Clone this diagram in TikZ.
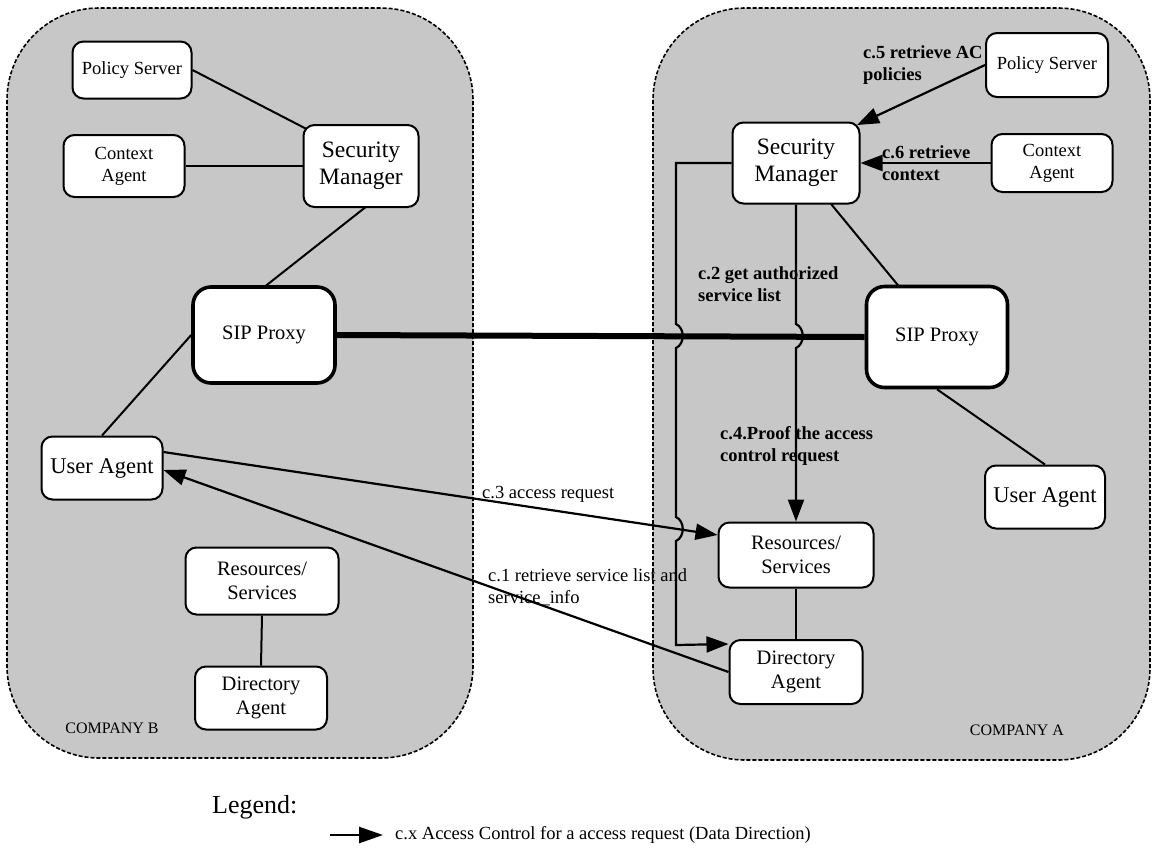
\documentclass[tikz,border=0pt]{standalone}
\usepackage{fontspec}
\setmainfont{Liberation Serif}
\usetikzlibrary{arrows.meta,calc}
\pgfdeclarelayer{regions}
\pgfdeclarelayer{links}
\pgfsetlayers{regions,links,main}
\begin{document}
\begin{tikzpicture}[x=1pt,y=-1pt,
  region/.style={draw=black, line width=1.6pt, dash pattern=on 4pt off 2pt,
    fill=black!22, rounded corners=92pt},
  box/.style={draw=black, line width=2pt, fill=white, rounded corners=11pt,
    align=center, inner sep=0pt, font=\fontsize{20.5}{24}\selectfont},
  smallbox/.style={box, font=\fontsize{18.5}{22}\selectfont},
  bigbox/.style={box, font=\fontsize{23.5}{27}\selectfont},
  uabox/.style={box, font=\fontsize{22.5}{26}\selectfont},
  proxybox/.style={box, line width=3.6pt, rounded corners=18pt},
  link/.style={line width=2pt},
  flow/.style={line width=2.2pt, -{Triangle[length=22pt,width=16pt]}},
  trunk/.style={line width=6pt},
  lbl/.style={anchor=north west, align=left, inner sep=0pt,
    font=\fontsize{18.5}{22}\selectfont},
  blbl/.style={lbl, font=\fontsize{18.5}{22}\selectfont\bfseries},
  company/.style={inner sep=0pt, font=\fontsize{16}{19}\selectfont}
]
\useasboundingbox (0,0) rectangle (1153,847);

% company domains
\begin{pgfonlayer}{regions}
  \draw[region] (7,8) rectangle (473,758);
  \draw[region] (653,8) rectangle (1150,760);
\end{pgfonlayer}

% ---- Company B ----
\node[smallbox, minimum width=119pt, minimum height=57pt] (psB) at (132,70) {Policy Server};
\node[smallbox, minimum width=121pt, minimum height=62pt] (caB) at (124,166) {Context\\Agent};
\node[bigbox, minimum width=115pt, minimum height=82pt] (smB) at (361,166) {Security\\Manager};
\node[proxybox, minimum width=142pt, minimum height=96pt] (sipB) at (264,335) {SIP Proxy};
\node[uabox, minimum width=121pt, minimum height=63pt] (uaB) at (102,468) {User Agent};
\node[box, minimum width=153pt, minimum height=67pt] (rsB) at (262,581) {Resources/\\Services};
\node[box, minimum width=132pt, minimum height=63pt] (daB) at (261,698) {Directory\\Agent};
\node[company] (compB) at (112,728) {COMPANY B};

% ---- Company A ----
\node[smallbox, minimum width=122pt, minimum height=64pt] (psA) at (1047,65) {Policy Server};
\node[smallbox, minimum width=121pt, minimum height=58pt] (caA) at (1052,163) {Context\\Agent};
\node[bigbox, minimum width=127pt, minimum height=81pt] (smA) at (796,163) {Security\\Manager};
\node[proxybox, minimum width=141pt, minimum height=101pt] (sipA) at (937,337) {SIP Proxy};
\node[uabox, minimum width=120pt, minimum height=63pt] (uaA) at (1045,497) {User Agent};
\node[box, minimum width=155pt, minimum height=65pt] (rsA) at (796,555) {Resources/\\Services};
\node[box, minimum width=133pt, minimum height=64pt] (daA) at (796,672) {Directory\\Agent};
\node[company] (compA) at (1017,730) {COMPANY A};

% flow labels
\node[blbl] (l5) at (863,45) {c.5 retrieve AC\\policies};
\node[blbl] (l6) at (882,145) {c.6 retrieve\\context};
\node[blbl] (l2) at (698,266) {c.2 get authorized\\service list};
\node[blbl] (l4) at (720,426) {c.4.Proof the access\\control request};
\node[lbl] (l3) at (482,486) {c.3 access request};
\node[lbl] (l1) at (488,568) {c.1 retrieve service list and\\service\_info};

% legend
\node[anchor=north west, inner sep=0pt, font=\fontsize{26}{30}\selectfont] (leg) at (212,795) {Legend:};
\coordinate (legS) at (330,835);
\coordinate (legE) at (383,835);
\node[anchor=west, inner sep=0pt, font=\fontsize{18.5}{22}\selectfont] (legT) at (395,835)
  {c.x Access Control for a access request (Data Direction)};

\begin{pgfonlayer}{links}
  % Company B links
  \draw[link] (psB.east) -- ($(smB.north west)+(6,6)$);
  \draw[link] (caB.east) -- (smB.west);
  \draw[link] ($(smB.south)+(6,-2)$) -- ($(sipB.north)+(0,2)$);
  \draw[link] (sipB.west) -- (uaB.north);
  \draw[link] (rsB.south) -- (daB.north);
  % Company A links
  \draw[link] ($(smA.south)+(33,-3)$) -- ($(sipA.north)+(-37,3)$);
  \draw[link] (sipA.south) -- (uaA.north);
  \draw[link] (rsA.south) -- (daA.north);
  % trunk between the two proxies
  \draw[trunk] (sipB.east) -- (sipA.west);
  % access control flows
  \draw[flow] (psA.west) -- ($(smA.north east)+(-3.5,3.5)$);
  \draw[flow] (caA.west) -- (smA.east);
  \draw[flow] (smA.south) -- (796,324) .. controls (805,328) and (805,344) .. (796,348)
    -- (rsA.north);
  \draw[flow] (smA.west) -- (676,163) -- (676,324)
    .. controls (685,328) and (685,344) .. (676,348) -- (676,517)
    .. controls (685,521) and (685,537) .. (676,541) -- (676,645)
    -- ($(daA.north west)+(0,5)$);
  \draw[flow] ($(uaB.east)+(0,-16)$) -- ($(rsA.west)+(0,-20)$);
  \draw[flow] (daA.west) -- ($(uaB.east)+(0,2)$);
  % legend arrow
  \draw[line width=2.5pt, -{Triangle[length=24pt,width=16pt]}] (legS) -- (legE);
\end{pgfonlayer}
\end{tikzpicture}
\end{document}
